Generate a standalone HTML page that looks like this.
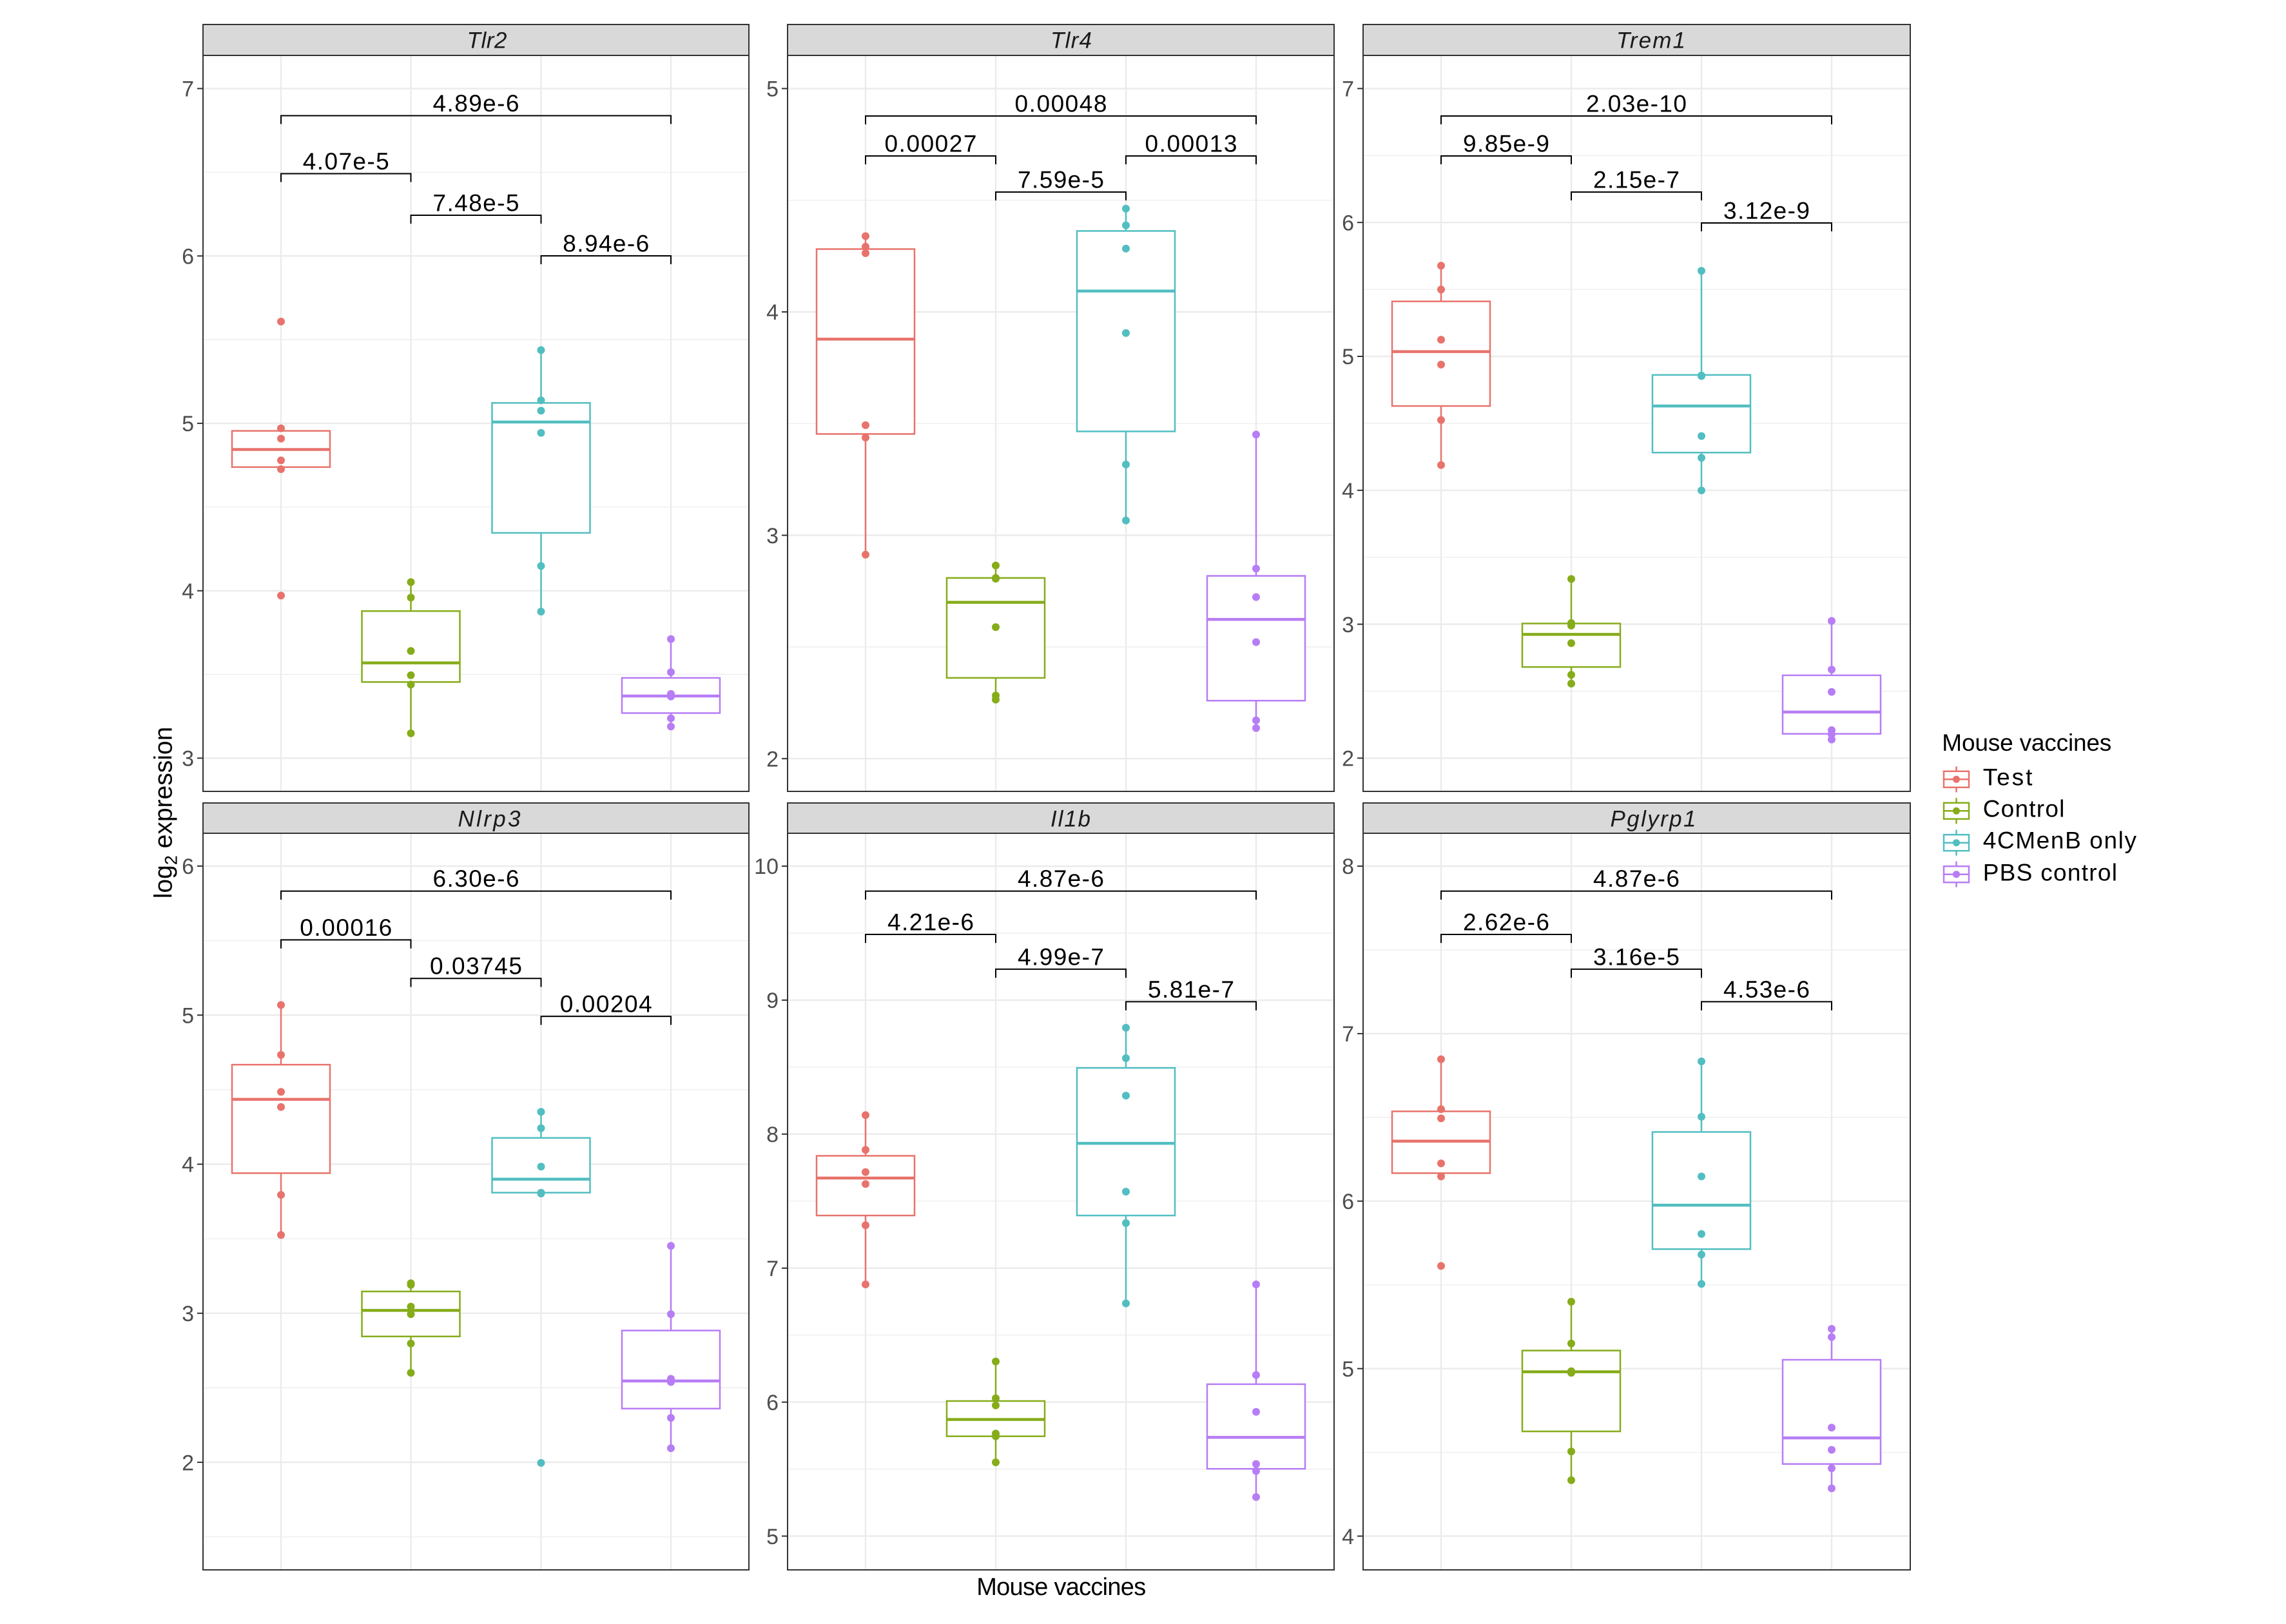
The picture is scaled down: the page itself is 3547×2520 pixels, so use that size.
<!DOCTYPE html>
<html><head><meta charset="utf-8"><style>
html,body{margin:0;padding:0;background:#fff;}
svg{display:block;}
text{font-family:"Liberation Sans",Arial,sans-serif;}
.tk{font-size:34px;fill:#4D4D4D;text-anchor:end;}
.pv{font-size:37px;fill:#000;text-anchor:middle;}
.st{font-size:35px;fill:#1A1A1A;text-anchor:middle;font-style:italic;}
.mj{stroke:#EBEBEB;stroke-width:2.4;}
.mn{stroke:#EBEBEB;stroke-width:1.2;}
.br{fill:none;stroke:#000;stroke-width:2;}
.bx line,.bx rect{stroke-width:2.5;}
.bx rect{fill:#fff;}
.md{stroke-width:4.5 !important;}
.tm{stroke:#333;stroke-width:2;}
</style></head><body>
<svg width="3547" height="2520" viewBox="0 0 3547 2520" xmlns="http://www.w3.org/2000/svg">
<rect width="3547" height="2520" fill="#fff"/>

<!-- ================= GRIDS ================= -->
<g>
<line class="mn" x1="315" x2="1162" y1="1046.5" y2="1046.5"/><line class="mn" x1="315" x2="1162" y1="786.8" y2="786.8"/><line class="mn" x1="315" x2="1162" y1="527.0" y2="527.0"/><line class="mn" x1="315" x2="1162" y1="267.3" y2="267.3"/>
<line class="mj" x1="315" x2="1162" y1="1176.4" y2="1176.4"/><line class="mj" x1="315" x2="1162" y1="916.7" y2="916.7"/><line class="mj" x1="315" x2="1162" y1="656.9" y2="656.9"/><line class="mj" x1="315" x2="1162" y1="397.2" y2="397.2"/><line class="mj" x1="315" x2="1162" y1="137.4" y2="137.4"/>
<line class="mj" x1="436" x2="436" y1="86" y2="1228"/><line class="mj" x1="637.5" x2="637.5" y1="86" y2="1228"/><line class="mj" x1="839.5" x2="839.5" y1="86" y2="1228"/><line class="mj" x1="1041" x2="1041" y1="86" y2="1228"/>
</g>
<g>
<line class="mn" x1="1222" x2="2070" y1="1003.9" y2="1003.9"/><line class="mn" x1="1222" x2="2070" y1="657.3" y2="657.3"/><line class="mn" x1="1222" x2="2070" y1="310.7" y2="310.7"/>
<line class="mj" x1="1222" x2="2070" y1="1177.2" y2="1177.2"/><line class="mj" x1="1222" x2="2070" y1="830.6" y2="830.6"/><line class="mj" x1="1222" x2="2070" y1="484.0" y2="484.0"/><line class="mj" x1="1222" x2="2070" y1="137.4" y2="137.4"/>
<line class="mj" x1="1343" x2="1343" y1="86" y2="1228"/><line class="mj" x1="1545" x2="1545" y1="86" y2="1228"/><line class="mj" x1="1747" x2="1747" y1="86" y2="1228"/><line class="mj" x1="1949" x2="1949" y1="86" y2="1228"/>
</g>
<g>
<line class="mn" x1="2115" x2="2964" y1="1072.5" y2="1072.5"/><line class="mn" x1="2115" x2="2964" y1="864.7" y2="864.7"/><line class="mn" x1="2115" x2="2964" y1="656.9" y2="656.9"/><line class="mn" x1="2115" x2="2964" y1="449.1" y2="449.1"/><line class="mn" x1="2115" x2="2964" y1="241.3" y2="241.3"/>
<line class="mj" x1="2115" x2="2964" y1="1176.4" y2="1176.4"/><line class="mj" x1="2115" x2="2964" y1="968.6" y2="968.6"/><line class="mj" x1="2115" x2="2964" y1="760.8" y2="760.8"/><line class="mj" x1="2115" x2="2964" y1="553.0" y2="553.0"/><line class="mj" x1="2115" x2="2964" y1="345.2" y2="345.2"/><line class="mj" x1="2115" x2="2964" y1="137.4" y2="137.4"/>
<line class="mj" x1="2236" x2="2236" y1="86" y2="1228"/><line class="mj" x1="2438" x2="2438" y1="86" y2="1228"/><line class="mj" x1="2640" x2="2640" y1="86" y2="1228"/><line class="mj" x1="2842" x2="2842" y1="86" y2="1228"/>
</g>
<g>
<line class="mn" x1="315" x2="1162" y1="2384.8" y2="2384.8"/><line class="mn" x1="315" x2="1162" y1="2153.5" y2="2153.5"/><line class="mn" x1="315" x2="1162" y1="1922.2" y2="1922.2"/><line class="mn" x1="315" x2="1162" y1="1690.9" y2="1690.9"/><line class="mn" x1="315" x2="1162" y1="1459.6" y2="1459.6"/>
<line class="mj" x1="315" x2="1162" y1="2269.1" y2="2269.1"/><line class="mj" x1="315" x2="1162" y1="2037.8" y2="2037.8"/><line class="mj" x1="315" x2="1162" y1="1806.5" y2="1806.5"/><line class="mj" x1="315" x2="1162" y1="1575.2" y2="1575.2"/><line class="mj" x1="315" x2="1162" y1="1343.9" y2="1343.9"/>
<line class="mj" x1="436" x2="436" y1="1293" y2="2436"/><line class="mj" x1="637.5" x2="637.5" y1="1293" y2="2436"/><line class="mj" x1="839.5" x2="839.5" y1="1293" y2="2436"/><line class="mj" x1="1041" x2="1041" y1="1293" y2="2436"/>
</g>
<g>
<line class="mn" x1="1222" x2="2070" y1="2279.6" y2="2279.6"/><line class="mn" x1="1222" x2="2070" y1="2071.7" y2="2071.7"/><line class="mn" x1="1222" x2="2070" y1="1863.8" y2="1863.8"/><line class="mn" x1="1222" x2="2070" y1="1655.9" y2="1655.9"/><line class="mn" x1="1222" x2="2070" y1="1448.0" y2="1448.0"/>
<line class="mj" x1="1222" x2="2070" y1="2383.6" y2="2383.6"/><line class="mj" x1="1222" x2="2070" y1="2175.7" y2="2175.7"/><line class="mj" x1="1222" x2="2070" y1="1967.8" y2="1967.8"/><line class="mj" x1="1222" x2="2070" y1="1759.8" y2="1759.8"/><line class="mj" x1="1222" x2="2070" y1="1551.9" y2="1551.9"/><line class="mj" x1="1222" x2="2070" y1="1344.0" y2="1344.0"/>
<line class="mj" x1="1343" x2="1343" y1="1293" y2="2436"/><line class="mj" x1="1545" x2="1545" y1="1293" y2="2436"/><line class="mj" x1="1747" x2="1747" y1="1293" y2="2436"/><line class="mj" x1="1949" x2="1949" y1="1293" y2="2436"/>
</g>
<g>
<line class="mn" x1="2115" x2="2964" y1="2253.7" y2="2253.7"/><line class="mn" x1="2115" x2="2964" y1="1993.8" y2="1993.8"/><line class="mn" x1="2115" x2="2964" y1="1733.9" y2="1733.9"/><line class="mn" x1="2115" x2="2964" y1="1474.0" y2="1474.0"/>
<line class="mj" x1="2115" x2="2964" y1="2383.6" y2="2383.6"/><line class="mj" x1="2115" x2="2964" y1="2123.7" y2="2123.7"/><line class="mj" x1="2115" x2="2964" y1="1863.8" y2="1863.8"/><line class="mj" x1="2115" x2="2964" y1="1603.9" y2="1603.9"/><line class="mj" x1="2115" x2="2964" y1="1344.0" y2="1344.0"/>
<line class="mj" x1="2236" x2="2236" y1="1293" y2="2436"/><line class="mj" x1="2438" x2="2438" y1="1293" y2="2436"/><line class="mj" x1="2640" x2="2640" y1="1293" y2="2436"/><line class="mj" x1="2842" x2="2842" y1="1293" y2="2436"/>
</g>

<!-- ================= BOXES ================= -->
<!-- Tlr2 -->
<g class="bx" stroke="#E8736C"><line x1="436" x2="436" y1="664.6" y2="668.6"/><line x1="436" x2="436" y1="724.8" y2="728.0"/><rect x="360" y="668.6" width="152" height="56.2"/><line class="md" x1="360" x2="512" y1="697.5" y2="697.5"/></g>
<g class="bx" stroke="#86AC1A"><line x1="637.5" x2="637.5" y1="903.2" y2="948.2"/><line x1="637.5" x2="637.5" y1="1058.3" y2="1137.9"/><rect x="561.5" y="948.2" width="152" height="110.1"/><line class="md" x1="561.5" x2="713.5" y1="1028.6" y2="1028.6"/></g>
<g class="bx" stroke="#52BEC1"><line x1="839.5" x2="839.5" y1="543.2" y2="625.2"/><line x1="839.5" x2="839.5" y1="826.9" y2="949.0"/><rect x="763.5" y="625.2" width="152" height="201.7"/><line class="md" x1="763.5" x2="915.5" y1="654.9" y2="654.9"/></g>
<g class="bx" stroke="#B77DF5"><line x1="1041" x2="1041" y1="991.6" y2="1051.9"/><line x1="1041" x2="1041" y1="1106.5" y2="1127.4"/><rect x="965" y="1051.9" width="152" height="54.6"/><line class="md" x1="965" x2="1117" y1="1080.0" y2="1080.0"/></g>
<g fill="#E8736C"><circle cx="436" cy="499.0" r="6"/><circle cx="436" cy="664.6" r="6"/><circle cx="436" cy="680.6" r="6"/><circle cx="436" cy="714.4" r="6"/><circle cx="436" cy="728.0" r="6"/><circle cx="436" cy="924.1" r="6"/></g>
<g fill="#86AC1A"><circle cx="637.5" cy="903.2" r="6"/><circle cx="637.5" cy="927.3" r="6"/><circle cx="637.5" cy="1010.1" r="6"/><circle cx="637.5" cy="1047.8" r="6"/><circle cx="637.5" cy="1062.3" r="6"/><circle cx="637.5" cy="1137.9" r="6"/></g>
<g fill="#52BEC1"><circle cx="839.5" cy="543.2" r="6"/><circle cx="839.5" cy="621.2" r="6"/><circle cx="839.5" cy="637.2" r="6"/><circle cx="839.5" cy="671.8" r="6"/><circle cx="839.5" cy="878.3" r="6"/><circle cx="839.5" cy="949.0" r="6"/></g>
<g fill="#B77DF5"><circle cx="1041" cy="991.6" r="6"/><circle cx="1041" cy="1043.0" r="6"/><circle cx="1041" cy="1076.8" r="6"/><circle cx="1041" cy="1080.8" r="6"/><circle cx="1041" cy="1114.6" r="6"/><circle cx="1041" cy="1127.4" r="6"/></g>

<!-- Tlr4 -->
<g class="bx" stroke="#E8736C"><line x1="1343" x2="1343" y1="366.4" y2="386.5"/><line x1="1343" x2="1343" y1="673.4" y2="860.6"/><rect x="1267" y="386.5" width="152" height="286.9"/><line class="md" x1="1267" x2="1419" y1="526.3" y2="526.3"/></g>
<g class="bx" stroke="#86AC1A"><line x1="1545" x2="1545" y1="877.5" y2="896.8"/><line x1="1545" x2="1545" y1="1051.9" y2="1085.6"/><rect x="1469" y="896.8" width="152" height="155.1"/><line class="md" x1="1469" x2="1621" y1="934.6" y2="934.6"/></g>
<g class="bx" stroke="#52BEC1"><line x1="1747" x2="1747" y1="323.8" y2="358.4"/><line x1="1747" x2="1747" y1="669.4" y2="807.6"/><rect x="1671" y="358.4" width="152" height="311.0"/><line class="md" x1="1671" x2="1823" y1="451.6" y2="451.6"/></g>
<g class="bx" stroke="#B77DF5"><line x1="1949" x2="1949" y1="674.2" y2="893.6"/><line x1="1949" x2="1949" y1="1087.2" y2="1129.8"/><rect x="1873" y="893.6" width="152" height="193.6"/><line class="md" x1="1873" x2="2025" y1="961.1" y2="961.1"/></g>
<g fill="#E8736C"><circle cx="1343" cy="366.4" r="6"/><circle cx="1343" cy="382.7" r="6"/><circle cx="1343" cy="392.9" r="6"/><circle cx="1343" cy="659.7" r="6"/><circle cx="1343" cy="679.0" r="6"/><circle cx="1343" cy="860.6" r="6"/></g>
<g fill="#86AC1A"><circle cx="1545" cy="877.5" r="6"/><circle cx="1545" cy="896.8" r="6"/><circle cx="1545" cy="898" r="6"/><circle cx="1545" cy="973.1" r="6"/><circle cx="1545" cy="1079.2" r="6"/><circle cx="1545" cy="1085.6" r="6"/></g>
<g fill="#52BEC1"><circle cx="1747" cy="323.8" r="6"/><circle cx="1747" cy="349.6" r="6"/><circle cx="1747" cy="385.7" r="6"/><circle cx="1747" cy="516.7" r="6"/><circle cx="1747" cy="720.8" r="6"/><circle cx="1747" cy="807.6" r="6"/></g>
<g fill="#B77DF5"><circle cx="1949" cy="674.2" r="6"/><circle cx="1949" cy="882.3" r="6"/><circle cx="1949" cy="926.5" r="6"/><circle cx="1949" cy="996.4" r="6"/><circle cx="1949" cy="1117.8" r="6"/><circle cx="1949" cy="1129.8" r="6"/></g>

<!-- Trem1 -->
<g class="bx" stroke="#E8736C"><line x1="2236" x2="2236" y1="412.2" y2="467.7"/><line x1="2236" x2="2236" y1="630.0" y2="721.6"/><rect x="2160" y="467.7" width="152" height="162.3"/><line class="md" x1="2160" x2="2312" y1="545.6" y2="545.6"/></g>
<g class="bx" stroke="#86AC1A"><line x1="2438" x2="2438" y1="898.4" y2="967.5"/><line x1="2438" x2="2438" y1="1035.0" y2="1060.7"/><rect x="2362" y="967.5" width="152" height="67.5"/><line class="md" x1="2362" x2="2514" y1="984.4" y2="984.4"/></g>
<g class="bx" stroke="#52BEC1"><line x1="2640" x2="2640" y1="420.3" y2="581.8"/><line x1="2640" x2="2640" y1="702.3" y2="761.0"/><rect x="2564" y="581.8" width="152" height="120.5"/><line class="md" x1="2564" x2="2716" y1="630.0" y2="630.0"/></g>
<g class="bx" stroke="#B77DF5"><line x1="2842" x2="2842" y1="963.5" y2="1047.9"/><line x1="2842" x2="2842" y1="1138.7" y2="1149.1"/><rect x="2766" y="1047.9" width="152" height="90.8"/><line class="md" x1="2766" x2="2918" y1="1104.9" y2="1104.9"/></g>
<g fill="#E8736C"><circle cx="2236" cy="412.2" r="6"/><circle cx="2236" cy="449.2" r="6"/><circle cx="2236" cy="527.1" r="6"/><circle cx="2236" cy="565.7" r="6"/><circle cx="2236" cy="651.7" r="6"/><circle cx="2236" cy="721.6" r="6"/></g>
<g fill="#86AC1A"><circle cx="2438" cy="898.4" r="6"/><circle cx="2438" cy="966.7" r="6"/><circle cx="2438" cy="970.7" r="6"/><circle cx="2438" cy="998.0" r="6"/><circle cx="2438" cy="1047.1" r="6"/><circle cx="2438" cy="1060.7" r="6"/></g>
<g fill="#52BEC1"><circle cx="2640" cy="420.3" r="6"/><circle cx="2640" cy="582.6" r="6"/><circle cx="2640" cy="583.5" r="6"/><circle cx="2640" cy="676.6" r="6"/><circle cx="2640" cy="710.4" r="6"/><circle cx="2640" cy="761.0" r="6"/></g>
<g fill="#B77DF5"><circle cx="2842" cy="963.5" r="6"/><circle cx="2842" cy="1039.0" r="6"/><circle cx="2842" cy="1073.6" r="6"/><circle cx="2842" cy="1133.0" r="6"/><circle cx="2842" cy="1139.5" r="6"/><circle cx="2842" cy="1147.5" r="6"/></g>

<!-- Nlrp3 -->
<g class="bx" stroke="#E8736C"><line x1="436" x2="436" y1="1559.5" y2="1652.1"/><line x1="436" x2="436" y1="1820.4" y2="1916.4"/><rect x="360" y="1652.1" width="152" height="168.3"/><line class="md" x1="360" x2="512" y1="1705.9" y2="1705.9"/></g>
<g class="bx" stroke="#86AC1A"><line x1="637.5" x2="637.5" y1="1991.3" y2="2004.0"/><line x1="637.5" x2="637.5" y1="2073.8" y2="2130.2"/><rect x="561.5" y="2004.0" width="152" height="69.8"/><line class="md" x1="561.5" x2="713.5" y1="2033.4" y2="2033.4"/></g>
<g class="bx" stroke="#52BEC1"><line x1="839.5" x2="839.5" y1="1725.3" y2="1765.7"/><rect x="763.5" y="1765.7" width="152" height="85.0"/><line class="md" x1="763.5" x2="915.5" y1="1829.7" y2="1829.7"/></g>
<g class="bx" stroke="#B77DF5"><line x1="1041" x2="1041" y1="1933.2" y2="2064.6"/><line x1="1041" x2="1041" y1="2185.8" y2="2247.3"/><rect x="965" y="2064.6" width="152" height="121.2"/><line class="md" x1="965" x2="1117" y1="2142.9" y2="2142.9"/></g>
<g fill="#E8736C"><circle cx="436" cy="1559.5" r="6"/><circle cx="436" cy="1636.9" r="6"/><circle cx="436" cy="1694.2" r="6"/><circle cx="436" cy="1717.7" r="6"/><circle cx="436" cy="1854.1" r="6"/><circle cx="436" cy="1916.4" r="6"/></g>
<g fill="#86AC1A"><circle cx="637.5" cy="1991.3" r="6"/><circle cx="637.5" cy="1993.8" r="6"/><circle cx="637.5" cy="2027.5" r="6"/><circle cx="637.5" cy="2039.3" r="6"/><circle cx="637.5" cy="2084.8" r="6"/><circle cx="637.5" cy="2130.2" r="6"/></g>
<g fill="#52BEC1"><circle cx="839.5" cy="1725.3" r="6"/><circle cx="839.5" cy="1750.6" r="6"/><circle cx="839.5" cy="1810.3" r="6"/><circle cx="839.5" cy="1850.7" r="6"/><circle cx="839.5" cy="1852" r="6"/><circle cx="839.5" cy="2270.0" r="6"/></g>
<g fill="#B77DF5"><circle cx="1041" cy="1933.2" r="6"/><circle cx="1041" cy="2039.3" r="6"/><circle cx="1041" cy="2139.5" r="6"/><circle cx="1041" cy="2144.5" r="6"/><circle cx="1041" cy="2200.1" r="6"/><circle cx="1041" cy="2247.3" r="6"/></g>

<!-- Il1b -->
<g class="bx" stroke="#E8736C"><line x1="1343" x2="1343" y1="1730.4" y2="1793.5"/><line x1="1343" x2="1343" y1="1886.1" y2="1993.0"/><rect x="1267" y="1793.5" width="152" height="92.6"/><line class="md" x1="1267" x2="1419" y1="1828.0" y2="1828.0"/></g>
<g class="bx" stroke="#86AC1A"><line x1="1545" x2="1545" y1="2112.6" y2="2174.0"/><line x1="1545" x2="1545" y1="2228.7" y2="2269.1"/><rect x="1469" y="2174.0" width="152" height="54.7"/><line class="md" x1="1469" x2="1621" y1="2202.6" y2="2202.6"/></g>
<g class="bx" stroke="#52BEC1"><line x1="1747" x2="1747" y1="1594.8" y2="1657.1"/><line x1="1747" x2="1747" y1="1886.1" y2="2022.5"/><rect x="1671" y="1657.1" width="152" height="229.0"/><line class="md" x1="1671" x2="1823" y1="1774.1" y2="1774.1"/></g>
<g class="bx" stroke="#B77DF5"><line x1="1949" x2="1949" y1="1993.0" y2="2147.9"/><line x1="1949" x2="1949" y1="2279.2" y2="2323.0"/><rect x="1873" y="2147.9" width="152" height="131.3"/><line class="md" x1="1873" x2="2025" y1="2230.4" y2="2230.4"/></g>
<g fill="#E8736C"><circle cx="1343" cy="1730.4" r="6"/><circle cx="1343" cy="1784.2" r="6"/><circle cx="1343" cy="1818.8" r="6"/><circle cx="1343" cy="1837.3" r="6"/><circle cx="1343" cy="1901.3" r="6"/><circle cx="1343" cy="1993.0" r="6"/></g>
<g fill="#86AC1A"><circle cx="1545" cy="2112.6" r="6"/><circle cx="1545" cy="2169.8" r="6"/><circle cx="1545" cy="2180.7" r="6"/><circle cx="1545" cy="2224.5" r="6"/><circle cx="1545" cy="2228.7" r="6"/><circle cx="1545" cy="2269.1" r="6"/></g>
<g fill="#52BEC1"><circle cx="1747" cy="1594.8" r="6"/><circle cx="1747" cy="1642.0" r="6"/><circle cx="1747" cy="1700.1" r="6"/><circle cx="1747" cy="1849.1" r="6"/><circle cx="1747" cy="1897.9" r="6"/><circle cx="1747" cy="2022.5" r="6"/></g>
<g fill="#B77DF5"><circle cx="1949" cy="1993.0" r="6"/><circle cx="1949" cy="2133.6" r="6"/><circle cx="1949" cy="2190.8" r="6"/><circle cx="1949" cy="2271.7" r="6"/><circle cx="1949" cy="2282.6" r="6"/><circle cx="1949" cy="2323.0" r="6"/></g>

<!-- Pglyrp1 -->
<g class="bx" stroke="#E8736C"><line x1="2236" x2="2236" y1="1643.6" y2="1724.5"/><line x1="2236" x2="2236" y1="1820.4" y2="1825.5"/><rect x="2160" y="1724.5" width="152" height="95.9"/><line class="md" x1="2160" x2="2312" y1="1770.8" y2="1770.8"/></g>
<g class="bx" stroke="#86AC1A"><line x1="2438" x2="2438" y1="2019.9" y2="2095.7"/><line x1="2438" x2="2438" y1="2221.1" y2="2296.9"/><rect x="2362" y="2095.7" width="152" height="125.4"/><line class="md" x1="2362" x2="2514" y1="2128.6" y2="2128.6"/></g>
<g class="bx" stroke="#52BEC1"><line x1="2640" x2="2640" y1="1647.0" y2="1756.5"/><line x1="2640" x2="2640" y1="1938.3" y2="1992.2"/><rect x="2564" y="1756.5" width="152" height="181.8"/><line class="md" x1="2564" x2="2716" y1="1870.1" y2="1870.1"/></g>
<g class="bx" stroke="#B77DF5"><line x1="2842" x2="2842" y1="2062.0" y2="2110.0"/><line x1="2842" x2="2842" y1="2271.7" y2="2309.5"/><rect x="2766" y="2110.0" width="152" height="161.7"/><line class="md" x1="2766" x2="2918" y1="2231.3" y2="2231.3"/></g>
<g fill="#E8736C"><circle cx="2236" cy="1643.6" r="6"/><circle cx="2236" cy="1721.1" r="6"/><circle cx="2236" cy="1735.4" r="6"/><circle cx="2236" cy="1805.3" r="6"/><circle cx="2236" cy="1825.5" r="6"/><circle cx="2236" cy="1964.4" r="6"/></g>
<g fill="#86AC1A"><circle cx="2438" cy="2019.9" r="6"/><circle cx="2438" cy="2084.8" r="6"/><circle cx="2438" cy="2127.7" r="6"/><circle cx="2438" cy="2130.2" r="6"/><circle cx="2438" cy="2252.3" r="6"/><circle cx="2438" cy="2296.9" r="6"/></g>
<g fill="#52BEC1"><circle cx="2640" cy="1647.0" r="6"/><circle cx="2640" cy="1732.9" r="6"/><circle cx="2640" cy="1825.5" r="6"/><circle cx="2640" cy="1914.7" r="6"/><circle cx="2640" cy="1946.7" r="6"/><circle cx="2640" cy="1992.2" r="6"/></g>
<g fill="#B77DF5"><circle cx="2842" cy="2062.0" r="6"/><circle cx="2842" cy="2074.7" r="6"/><circle cx="2842" cy="2215.3" r="6"/><circle cx="2842" cy="2249.8" r="6"/><circle cx="2842" cy="2278.4" r="6"/><circle cx="2842" cy="2309.5" r="6"/></g>

<!-- ================= BRACKETS ================= -->
<g class="br">
<path d="M436 192.5V179.5H1041V192.5"/><path d="M436 282.5V269.5H637.5V282.5"/><path d="M637.5 347V334H839.5V347"/><path d="M839.5 410V397H1041V410"/>
<path d="M1343 193V180H1949V193"/><path d="M1343 255V242H1545V255"/><path d="M1545 311V298H1747V311"/><path d="M1747 255V242H1949V255"/>
<path d="M2236 193V180H2842V193"/><path d="M2236 255V242H2438V255"/><path d="M2438 311V298H2640V311"/><path d="M2640 359V346H2842V359"/>
<path d="M436 1396V1382.7H1041V1396"/><path d="M436 1471.7V1458.4H637.5V1471.7"/><path d="M637.5 1531.5V1518.2H839.5V1531.5"/><path d="M839.5 1590.4V1577.1H1041V1590.4"/>
<path d="M1343 1396V1382.7H1949V1396"/><path d="M1343 1463.3V1450H1545V1463.3"/><path d="M1545 1517.2V1503.9H1747V1517.2"/><path d="M1747 1567.7V1554.4H1949V1567.7"/>
<path d="M2236 1396V1382.7H2842V1396"/><path d="M2236 1463.3V1450H2438V1463.3"/><path d="M2438 1517.2V1503.9H2640V1517.2"/><path d="M2640 1567.7V1554.4H2842V1567.7"/>
</g>
<g>
<text class="pv" x="738.5" y="173" textLength="134">4.89e-6</text>
<text class="pv" x="536.75" y="263" textLength="134">4.07e-5</text>
<text class="pv" x="738.5" y="327.5" textLength="134">7.48e-5</text>
<text class="pv" x="940.25" y="390.5" textLength="134">8.94e-6</text>

<text class="pv" x="1646" y="173.5" textLength="143">0.00048</text>
<text class="pv" x="1444" y="235.5" textLength="143">0.00027</text>
<text class="pv" x="1646" y="291.5" textLength="134">7.59e-5</text>
<text class="pv" x="1848" y="235.5" textLength="143">0.00013</text>

<text class="pv" x="2539" y="173.5" textLength="156">2.03e-10</text>
<text class="pv" x="2337" y="235.5" textLength="134">9.85e-9</text>
<text class="pv" x="2539" y="291.5" textLength="134">2.15e-7</text>
<text class="pv" x="2741" y="339.5" textLength="134">3.12e-9</text>

<text class="pv" x="738.5" y="1376" textLength="134">6.30e-6</text>
<text class="pv" x="536.75" y="1452" textLength="143">0.00016</text>
<text class="pv" x="738.5" y="1511.7" textLength="143">0.03745</text>
<text class="pv" x="940.25" y="1570.6" textLength="143">0.00204</text>

<text class="pv" x="1646" y="1376" textLength="134">4.87e-6</text>
<text class="pv" x="1444" y="1443.5" textLength="134">4.21e-6</text>
<text class="pv" x="1646" y="1497.4" textLength="134">4.99e-7</text>
<text class="pv" x="1848" y="1547.9" textLength="134">5.81e-7</text>

<text class="pv" x="2539" y="1376" textLength="134">4.87e-6</text>
<text class="pv" x="2337" y="1443.5" textLength="134">2.62e-6</text>
<text class="pv" x="2539" y="1497.4" textLength="134">3.16e-5</text>
<text class="pv" x="2741" y="1547.9" textLength="134">4.53e-6</text>
</g>

<!-- ================= PANEL BORDERS & STRIPS ================= -->
<g fill="none" stroke="#333333" stroke-width="2">
<rect x="315" y="86" width="847" height="1142"/>
<rect x="1222" y="86" width="848" height="1142"/>
<rect x="2115" y="86" width="849" height="1142"/>
<rect x="315" y="1293" width="847" height="1143"/>
<rect x="1222" y="1293" width="848" height="1143"/>
<rect x="2115" y="1293" width="849" height="1143"/>
</g>
<g fill="#D9D9D9" stroke="#333333" stroke-width="2">
<rect x="315" y="38" width="847" height="48"/>
<rect x="1222" y="38" width="848" height="48"/>
<rect x="2115" y="38" width="849" height="48"/>
<rect x="315" y="1246" width="847" height="47"/>
<rect x="1222" y="1246" width="848" height="47"/>
<rect x="2115" y="1246" width="849" height="47"/>
</g>
<text class="st" x="755.5" y="74.5" textLength="62">Tlr2</text>
<text class="st" x="1662" y="74.5" textLength="64">Tlr4</text>
<text class="st" x="2561.5" y="74.5" textLength="107">Trem1</text>
<text class="st" x="759" y="1282.5" textLength="97">Nlrp3</text>
<text class="st" x="1661" y="1282.5" textLength="62">Il1b</text>
<text class="st" x="2565" y="1282.5" textLength="133">Pglyrp1</text>

<!-- ================= AXIS TICKS ================= -->
<g>
<line class="tm" x1="306" x2="315" y1="1176.4" y2="1176.4"/><line class="tm" x1="306" x2="315" y1="916.7" y2="916.7"/><line class="tm" x1="306" x2="315" y1="656.9" y2="656.9"/><line class="tm" x1="306" x2="315" y1="397.2" y2="397.2"/><line class="tm" x1="306" x2="315" y1="137.4" y2="137.4"/>
<text class="tk" x="301" y="1188.6">3</text><text class="tk" x="301" y="928.9">4</text><text class="tk" x="301" y="669.1">5</text><text class="tk" x="301" y="409.4">6</text><text class="tk" x="301" y="149.6">7</text>

<line class="tm" x1="1213" x2="1222" y1="1177.2" y2="1177.2"/><line class="tm" x1="1213" x2="1222" y1="830.6" y2="830.6"/><line class="tm" x1="1213" x2="1222" y1="484.0" y2="484.0"/><line class="tm" x1="1213" x2="1222" y1="137.4" y2="137.4"/>
<text class="tk" x="1208" y="1189.4">2</text><text class="tk" x="1208" y="842.8">3</text><text class="tk" x="1208" y="496.2">4</text><text class="tk" x="1208" y="149.6">5</text>

<line class="tm" x1="2106" x2="2115" y1="1176.4" y2="1176.4"/><line class="tm" x1="2106" x2="2115" y1="968.6" y2="968.6"/><line class="tm" x1="2106" x2="2115" y1="760.8" y2="760.8"/><line class="tm" x1="2106" x2="2115" y1="553.0" y2="553.0"/><line class="tm" x1="2106" x2="2115" y1="345.2" y2="345.2"/><line class="tm" x1="2106" x2="2115" y1="137.4" y2="137.4"/>
<text class="tk" x="2101" y="1188.6">2</text><text class="tk" x="2101" y="980.8">3</text><text class="tk" x="2101" y="773">4</text><text class="tk" x="2101" y="565.2">5</text><text class="tk" x="2101" y="357.4">6</text><text class="tk" x="2101" y="149.6">7</text>

<line class="tm" x1="306" x2="315" y1="2269.1" y2="2269.1"/><line class="tm" x1="306" x2="315" y1="2037.8" y2="2037.8"/><line class="tm" x1="306" x2="315" y1="1806.5" y2="1806.5"/><line class="tm" x1="306" x2="315" y1="1575.2" y2="1575.2"/><line class="tm" x1="306" x2="315" y1="1343.9" y2="1343.9"/>
<text class="tk" x="301" y="2281.3">2</text><text class="tk" x="301" y="2050">3</text><text class="tk" x="301" y="1818.7">4</text><text class="tk" x="301" y="1587.4">5</text><text class="tk" x="301" y="1356.1">6</text>

<line class="tm" x1="1213" x2="1222" y1="2383.6" y2="2383.6"/><line class="tm" x1="1213" x2="1222" y1="2175.7" y2="2175.7"/><line class="tm" x1="1213" x2="1222" y1="1967.8" y2="1967.8"/><line class="tm" x1="1213" x2="1222" y1="1759.8" y2="1759.8"/><line class="tm" x1="1213" x2="1222" y1="1551.9" y2="1551.9"/><line class="tm" x1="1213" x2="1222" y1="1344.0" y2="1344.0"/>
<text class="tk" x="1208" y="2395.8">5</text><text class="tk" x="1208" y="2187.9">6</text><text class="tk" x="1208" y="1980">7</text><text class="tk" x="1208" y="1772">8</text><text class="tk" x="1208" y="1564.1">9</text><text class="tk" x="1208" y="1356.2">10</text>

<line class="tm" x1="2106" x2="2115" y1="2383.6" y2="2383.6"/><line class="tm" x1="2106" x2="2115" y1="2123.7" y2="2123.7"/><line class="tm" x1="2106" x2="2115" y1="1863.8" y2="1863.8"/><line class="tm" x1="2106" x2="2115" y1="1603.9" y2="1603.9"/><line class="tm" x1="2106" x2="2115" y1="1344.0" y2="1344.0"/>
<text class="tk" x="2101" y="2395.8">4</text><text class="tk" x="2101" y="2135.9">5</text><text class="tk" x="2101" y="1876">6</text><text class="tk" x="2101" y="1616.1">7</text><text class="tk" x="2101" y="1356.2">8</text>
</g>

<!-- ================= AXIS TITLES ================= -->
<text x="1646.7" y="2475" font-size="38" text-anchor="middle" fill="#000" textLength="263">Mouse vaccines</text>
<text transform="translate(266.7,1261) rotate(-90)" font-size="39" text-anchor="middle" fill="#000">log<tspan font-size="27" dy="8">2</tspan><tspan dy="-8"> expression</tspan></text>

<!-- ================= LEGEND ================= -->
<text x="3013.3" y="1165" font-size="37" fill="#000" textLength="263">Mouse vaccines</text>
<g stroke-width="2.5" fill="#fff">
<g stroke="#E8736C"><line x1="3035.5" x2="3035.5" y1="1189.3" y2="1229.3"/><rect x="3016" y="1196.8" width="39" height="25"/><line x1="3016" x2="3055" y1="1209.3" y2="1209.3"/></g>
<g stroke="#86AC1A"><line x1="3035.5" x2="3035.5" y1="1238.3" y2="1278.3"/><rect x="3016" y="1245.8" width="39" height="25"/><line x1="3016" x2="3055" y1="1258.3" y2="1258.3"/></g>
<g stroke="#52BEC1"><line x1="3035.5" x2="3035.5" y1="1287.7" y2="1327.7"/><rect x="3016" y="1295.2" width="39" height="25"/><line x1="3016" x2="3055" y1="1307.7" y2="1307.7"/></g>
<g stroke="#B77DF5"><line x1="3035.5" x2="3035.5" y1="1336.7" y2="1376.7"/><rect x="3016" y="1344.2" width="39" height="25"/><line x1="3016" x2="3055" y1="1356.7" y2="1356.7"/></g>
</g>
<circle cx="3035.5" cy="1209.3" r="5.5" fill="#E8736C"/>
<circle cx="3035.5" cy="1258.3" r="5.5" fill="#86AC1A"/>
<circle cx="3035.5" cy="1307.7" r="5.5" fill="#52BEC1"/>
<circle cx="3035.5" cy="1356.7" r="5.5" fill="#B77DF5"/>
<g font-size="37" fill="#000">
<text x="3076.7" y="1218.3" textLength="76.7">Test</text>
<text x="3076.7" y="1267.7" textLength="126.7">Control</text>
<text x="3076.7" y="1316.7" textLength="238.3">4CMenB only</text>
<text x="3076.7" y="1366.7" textLength="208.3">PBS control</text>
</g>
</svg>
</body></html>
